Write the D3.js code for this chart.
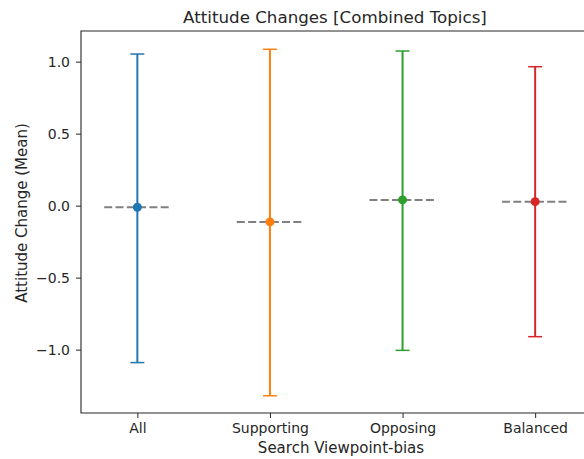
<!DOCTYPE html>
<html>
<head>
<meta charset="utf-8">
<title>Attitude Changes</title>
<script src="https://cdn.jsdelivr.net/npm/d3@7/dist/d3.min.js"></script>
<style>
  body { margin: 0; background: #fff; }
  text { font-family: "DejaVu Sans", sans-serif; fill: #262626; }
</style>
</head>
<body>
<div id="chart"></div>
<script>
// values
var categories = ["All", "Supporting", "Opposing", "Balanced"];
var means      = [-0.011, -0.113, 0.040, 0.028];
var lows       = [-1.09, -1.32, -1.005, -0.91];
var highs      = [1.053, 1.086, 1.074, 0.965];
var colors     = ["#1f77b4", "#ff7f0e", "#2ca02c", "#d62728"];
var yTicks     = [-1.0, -0.5, 0.0, 0.5, 1.0];

var w = 584, h = 459;
// plot box (right edge falls just outside the picture)
var pLeft = 81, pRight = 591.5, pTop = 31, pBottom = 413;

var svg = d3.select("#chart").append("svg")
  .attr("width", w)
  .attr("height", h);

// x is categorical, index based, like matplotlib
var x = d3.scaleLinear().domain([-0.425, 3.425]).range([pLeft, pRight]);
var y = d3.scaleLinear().domain([-1.44, 1.213]).range([pBottom, pTop]);

var rows = categories.map(function (c, i) {
  return { name: c, i: i, mean: means[i], lo: lows[i], hi: highs[i], color: colors[i] };
});

// axes
var yAxis = d3.axisLeft(y).tickValues(yTicks).tickSize(5).tickPadding(6)
  .tickFormat(function (d) { return d3.format(".1f")(d).replace("-", "\u2212"); });
var xAxis = d3.axisBottom(x).tickValues([0, 1, 2, 3]).tickSize(5).tickPadding(5)
  .tickFormat(function (d) { return categories[d]; });

var gy = svg.append("g").attr("transform", "translate(" + pLeft + ",0)").call(yAxis);
var gx = svg.append("g").attr("transform", "translate(0," + pBottom + ")").call(xAxis);
[gx, gy].forEach(function (g) {
  g.select(".domain").remove();
  g.selectAll(".tick line").attr("stroke", "#262626").attr("stroke-width", 1);
  g.selectAll(".tick text").attr("font-size", 14).attr("fill", "#262626")
    .style("font-family", "DejaVu Sans, sans-serif");
});

// spines
svg.append("path")
  .attr("d", "M" + pRight + "," + pTop + "H" + pLeft + "V" + pBottom + "H" + pRight)
  .attr("fill", "none").attr("stroke", "#262626").attr("stroke-width", 1.1);

// dashed mean lines
svg.selectAll("line.meanline")
  .data(rows).enter().append("line")
  .attr("class", "meanline")
  .attr("x1", function (d) { return x(d.i - 0.25); })
  .attr("x2", function (d) { return x(d.i + 0.25); })
  .attr("y1", function (d) { return y(d.mean); })
  .attr("y2", function (d) { return y(d.mean); })
  .attr("stroke", "#808080").attr("stroke-width", 2)
  .attr("stroke-dasharray", "8,3.3");

// error bars
var eb = svg.selectAll("g.eb").data(rows).enter().append("g").attr("class", "eb");
eb.append("line")
  .attr("x1", function (d) { return x(d.i); })
  .attr("x2", function (d) { return x(d.i); })
  .attr("y1", function (d) { return y(d.lo); })
  .attr("y2", function (d) { return y(d.hi); })
  .attr("stroke", function (d) { return d.color; }).attr("stroke-width", 2);
["lo", "hi"].forEach(function (k) {
  eb.append("line")
    .attr("x1", function (d) { return x(d.i) - 7; })
    .attr("x2", function (d) { return x(d.i) + 7; })
    .attr("y1", function (d) { return y(d[k]); })
    .attr("y2", function (d) { return y(d[k]); })
    .attr("stroke", function (d) { return d.color; }).attr("stroke-width", 1.5);
});
eb.append("circle")
  .attr("cx", function (d) { return x(d.i); })
  .attr("cy", function (d) { return y(d.mean); })
  .attr("r", 4.5)
  .attr("fill", function (d) { return d.color; });

// labels
svg.append("text").attr("x", 335).attr("y", 23)
  .attr("text-anchor", "middle").attr("font-size", 16.7)
  .text("Attitude Changes [Combined Topics]");
svg.append("text").attr("x", 341).attr("y", 453)
  .attr("text-anchor", "middle").attr("font-size", 15)
  .text("Search Viewpoint-bias");
svg.append("text")
  .attr("transform", "translate(27,213) rotate(-90)")
  .attr("text-anchor", "middle").attr("font-size", 15)
  .text("Attitude Change (Mean)");
</script>
</body>
</html>
